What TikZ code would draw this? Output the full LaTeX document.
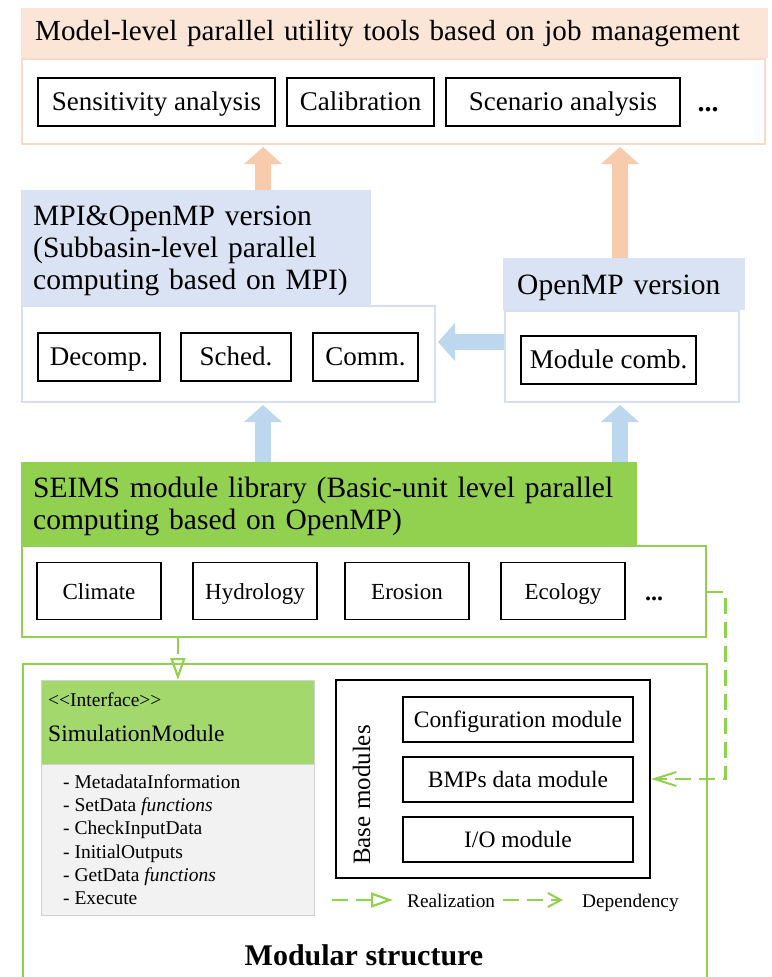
\documentclass[tikz,border=0pt]{standalone}
\usepackage{fontspec}
\setmainfont{Liberation Serif}
\usetikzlibrary{arrows.meta}
\definecolor{ohead}{HTML}{FBE5D6}
\definecolor{oborder}{HTML}{F9DAC6}
\definecolor{oarrow}{HTML}{F8CBAD}
\definecolor{bhead}{HTML}{DAE3F3}
\definecolor{bborder}{HTML}{D6E0F2}
\definecolor{barrow}{HTML}{BDD7EE}
\definecolor{sgreen}{HTML}{92D050}
\definecolor{ifgreen}{HTML}{A2D86C}
\definecolor{lgray}{HTML}{F2F2F2}
\definecolor{gborder}{HTML}{D0D0D0}
\newcommand\fsz[2]{\fontsize{#1}{#2}\selectfont}
\newcommand\topstrut{\rule{0pt}{26.5pt}}
\pgfdeclarelayer{background}
\pgfsetlayers{background,main}
\tikzset{
  headpanel/.style={anchor=north west, inner ysep=0pt, align=left, font=\fsz{29.5}{32}},
  lowpanel/.style={anchor=north west, inner sep=0pt, line width=2pt},
  bigbox/.style={draw=black, line width=1.8pt, inner sep=0pt, minimum height=48pt, font=\fsz{27}{30}, text height=20pt, text depth=4pt},
  modbox/.style={draw=black, line width=1.8pt, inner sep=0pt, minimum height=57pt, minimum width=124pt, font=\fsz{23}{26}, text height=17pt, text depth=0pt},
  basebox/.style={draw=black, line width=1.4pt, inner sep=0pt, minimum height=45pt, minimum width=230pt, font=\fsz{23.5}{26}, text height=16pt, text depth=1pt},
  dotsnode/.style={anchor=base, inner sep=0pt},
  fatorange/.style={draw=oarrow, line width=16pt, shorten >=2pt, -{Triangle[width=38pt,length=17pt,line width=0pt]}},
  fatblue/.style={draw=barrow, line width=16pt, shorten >=2pt, -{Triangle[width=38pt,length=17pt,line width=0pt]}},
  greenline/.style={draw=sgreen, line width=2.2pt, dash pattern=on 16pt off 8pt},
  realize/.style={greenline, -{Triangle[open,width=15pt,length=22pt,line width=2.2pt]}},
  depend/.style={greenline, -{Straight Barb[width=14pt,length=22pt,line width=2pt]}},
  plain/.style={inner sep=0pt, anchor=base west}
}
\begin{document}
\begin{tikzpicture}[x=1pt,y=-1pt]
\useasboundingbox (0,0) rectangle (771,977);
% top panel
\node[lowpanel, draw=oborder, minimum width=743pt, minimum height=85pt] (toplow) at (21,58) {};
\node[headpanel, font=\fsz{29.1}{32}, fill=ohead, minimum width=747pt, minimum height=50pt, inner xsep=14pt, text width=719pt] (tophead) at (21,8) {\mbox{Model-level parallel utility tools based on job management}};
\node[bigbox, minimum width=237pt] (sens) at (156.5,102) {Sensitivity analysis};
\node[bigbox, minimum width=147pt] (calib) at (360.5,102) {Calibration};
\node[bigbox, minimum width=234pt] (scen) at (563,102) {Scenario analysis};
\node[dotsnode, font=\fsz{28}{30}\bfseries] (tdots) at (708,111) {...};
% MPI panel
\node[lowpanel, draw=bborder, minimum width=413pt, minimum height=96pt] (mpilow) at (21,305) {};
\node[headpanel, fill=bhead, minimum width=350pt, minimum height=115pt, inner xsep=12pt, text width=326pt] (mpihead) at (21,190) {\topstrut MPI\&OpenMP version\\(Subbasin-level parallel\\computing based on MPI)};
\node[bigbox, minimum width=122pt] (decomp) at (99,357) {Decomp.};
\node[bigbox, minimum width=110pt] (sched) at (236,357) {Sched.};
\node[bigbox, minimum width=105pt] (comm) at (365.5,357) {Comm.};
% OpenMP panel
\node[lowpanel, draw=bborder, minimum width=234pt, minimum height=91pt] (openlow) at (504,310) {};
\node[headpanel, fill=bhead, minimum width=242pt, minimum height=52pt, inner xsep=14pt, text width=214pt] (openhead) at (503,258) {\topstrut OpenMP version};
\node[bigbox, minimum width=175pt] (modcomb) at (608.5,360) {Module comb.};
% SEIMS panel
\node[lowpanel, draw=sgreen, line width=2.4pt, minimum width=684pt, minimum height=91pt] (seimslow) at (21,545) {};
\node[headpanel, fill=sgreen, minimum width=616pt, minimum height=83pt, inner xsep=12pt, text width=592pt] (seimshead) at (21,462) {\topstrut SEIMS module library (Basic-unit level parallel\\computing based on OpenMP)};
\node[modbox] (climate) at (99,591) {Climate};
\node[modbox] (hydro) at (255,591) {Hydrology};
\node[modbox] (erosion) at (407,591) {Erosion};
\node[modbox] (ecology) at (563,591) {Ecology};
\node[dotsnode, font=\fsz{24}{26}\bfseries] (sdots) at (654,600) {...};
% Modular frame
\node[lowpanel, draw=sgreen, line width=2.4pt, minimum width=684pt, minimum height=340pt] (modframe) at (22,663) {};
% Interface
\node[anchor=north west, inner sep=0pt, fill=ifgreen, draw=gborder, line width=0.8pt, minimum width=273pt, minimum height=84pt] (ifhead) at (41,680) {};
\node[anchor=north west, inner sep=0pt, fill=lgray, draw=gborder, line width=0.8pt, minimum width=273pt, minimum height=151pt] (iflist) at (41,764) {};
\node[plain, font=\fsz{19.5}{22}] (ifstereo) at (48,706) {<{}<Interface>{}>};
\node[plain, font=\fsz{23.5}{26}] (ifname) at (48,741) {SimulationModule};
\foreach \t [count=\i] in {MetadataInformation, SetData \textit{functions}, CheckInputData, InitialOutputs, GetData \textit{functions}, Execute}
  \node[plain, font=\fsz{19.5}{22}] (item\i) at (63,{764.65+23.35*\i}) {- \t};
% Base modules
\node[draw=black, line width=2.2pt, inner sep=0pt, minimum width=314pt, minimum height=198pt] (basemod) at (493,779) {};
\node[anchor=base, rotate=90, inner sep=0pt, font=\fsz{25}{28}] (baselabel) at (370,795) {Base modules};
\node[basebox] (config) at (518,719.5) {Configuration module};
\node[basebox] (bmps) at (518,779.5) {BMPs data module};
\node[basebox] (io) at (518,839.5) {I/O module};
% legend
\coordinate (lr1) at (332,900);
\coordinate (lr2) at (393,900);
\draw[realize] (lr1) -- (lr2);
\node[plain, font=\fsz{19.3}{22}] (lreal) at (407,907) {Realization};
\coordinate (ld1) at (503,900);
\coordinate (ld2) at (563,900);
\draw[greenline, -{Straight Barb[width=14pt,length=13pt,line width=2pt]}] (ld1) -- (ld2);
\node[plain, font=\fsz{19.3}{22}] (ldep) at (582,907) {Dependency};
% title
\node[anchor=base, inner sep=0pt, font=\fsz{30}{32}\bfseries] (title) at (364,965) {Modular structure};
% green connectors
\draw[realize] (ifhead.north |- seimslow.south) -- (ifhead.north);
\draw[depend] (seimslow.east) -- ++(18,0) |- (basemod.east);
% fat arrows
\coordinate (ax1) at (263,0);
\coordinate (ax2) at (620,0);
\coordinate (ay) at (0,342);
\begin{pgfonlayer}{background}
\draw[fatorange] (mpihead.north -| ax1) -- (toplow.south -| ax1);
\draw[fatorange] (openhead.north -| ax2) -- (toplow.south -| ax2);
\draw[fatblue] (seimshead.north -| ax1) -- (mpilow.south -| ax1);
\draw[fatblue] (seimshead.north -| ax2) -- (openlow.south -| ax2);
\draw[fatblue] (openlow.west |- ay) -- (mpilow.east |- ay);
\end{pgfonlayer}
\end{tikzpicture}
\end{document}
